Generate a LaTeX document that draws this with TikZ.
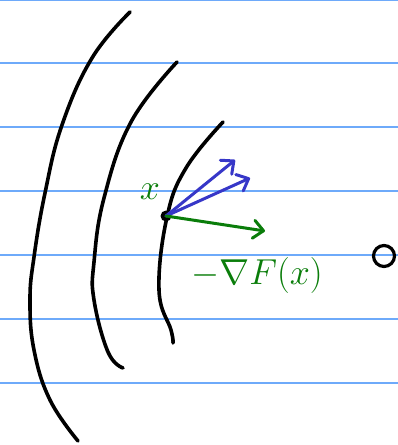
\documentclass[tikz,border=0pt]{standalone}
\usetikzlibrary{arrows.meta}
\definecolor{paperline}{RGB}{110,170,250}
\definecolor{pen}{RGB}{10,125,10}
\definecolor{ink}{RGB}{55,55,200}
\begin{document}
\begin{tikzpicture}[x=1pt, y=-1pt,
    level/.style={line width=3.6pt, line cap=round, line join=round},
    hand/.style={line width=3pt, line cap=round, line join=round,
      -{Straight Barb[length=10pt, width=18pt, round]}}]
  \useasboundingbox (0,0) rectangle (398,445);

  % ruled paper
  \foreach \y in {0,63,127,191,255,319,383}
    \draw[paperline, line width=2pt] (0,\y) -- (398,\y);

  % level sets of F
  \draw[level] plot[smooth, tension=0.7] coordinates {(130,12) (92,58) (62,125) (45,193) (34,257) (30,300) (34,350) (50,400) (78,441)};
  \draw[level] plot[smooth, tension=0.7] coordinates {(177,62) (131,122) (104,198) (94,262) (94,300) (108,352) (123,368)};
  \draw[level] plot[smooth, tension=0.7] coordinates {(223,122) (186,168) (167,217) (159,290) (171,330) (173,343)};

  % the point x and the directions
  \node[circle, fill, inner sep=0pt, minimum size=11pt] (x0) at (166,216) {};
  \coordinate (b1) at (235,160);
  \coordinate (b2) at (250,178);
  \coordinate (g) at (265,231);
  \draw[hand, ink] (x0.center) -- (b1);
  \draw[hand, ink] (x0.center) -- (b2);
  \draw[hand, pen] (x0.center) -- (g);

  % labels
  \node[pen, scale=1.45, font=\Huge] (xlab) at (150,192) {$x$};
  \node[pen, scale=1.45, font=\Huge] (glab) at (257,275) {$-\nabla F(x)$};

  % minimiser
  \node[circle, draw, line width=3.2pt, minimum size=21pt, inner sep=0pt] (opt) at (384,256) {};
\end{tikzpicture}
\end{document}
